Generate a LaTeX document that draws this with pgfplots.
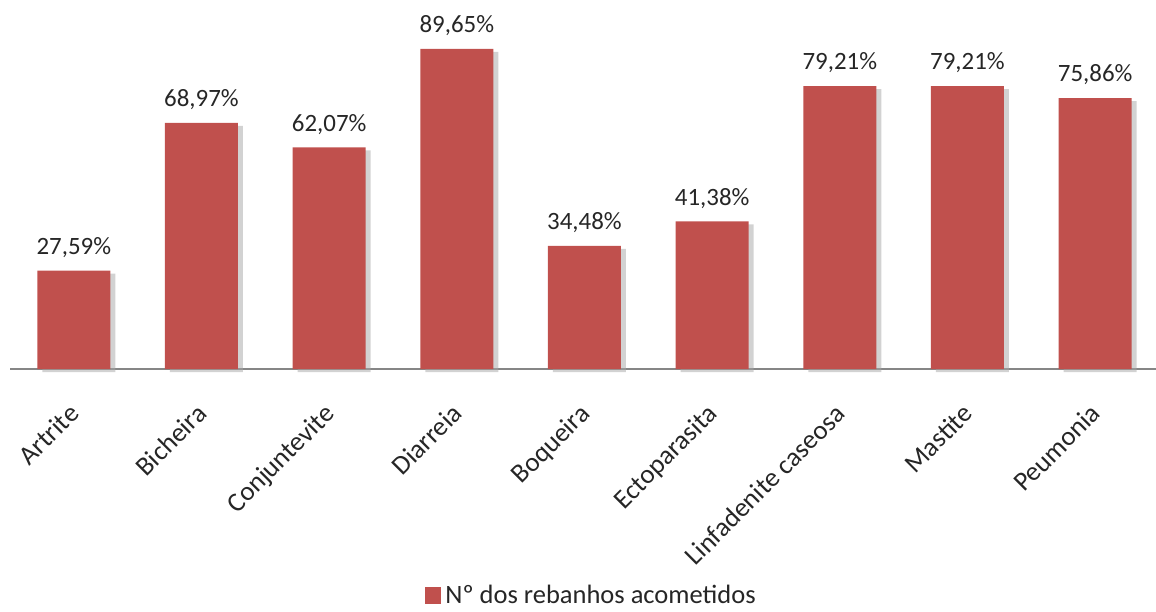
\documentclass[border=0pt]{standalone}
\usepackage{pgfplots}
\pgfplotsset{compat=1.18}
\usepackage{fontspec}
\setmainfont{Carlito}
\definecolor{barred}{HTML}{C0504D}
\definecolor{axgray}{HTML}{868686}
\definecolor{txt}{HTML}{262626}
\begin{document}
\begin{tikzpicture}
\begin{axis}[
  scale only axis,
  width=574.5bp, height=178.5bp,
  xmin=-0.5, xmax=8.5, ymin=0, ymax=100,
  clip=false,
  axis x line=bottom, axis y line=none,
  axis line style={axgray, line width=1.1bp, -},
  xtick=data, xtick style={draw=none},
  xticklabels={Artrite,Bicheira,Conjuntevite,Diarreia,Boqueira,Ectoparasita,Linfadenite caseosa,Mastite,Peumonia},
  x tick label style={rotate=45, anchor=north east, font=\fontsize{13.5}{16}\selectfont, text=txt, xshift=-7.5bp, yshift=-3bp},
  ytick=\empty,
  ybar, bar width=36.5bp,
  nodes near coords={\pgfmathprintnumber{\pgfplotspointmeta}\%},
  every node near coord/.append style={font=\fontsize{12.5}{15}\selectfont, text=txt, yshift=3bp,
    /pgf/number format/.cd, use comma, fixed, fixed zerofill, precision=2, assume math mode=true},
  legend style={draw=none, at={(0.507,-0.635)}, anchor=center, font=\fontsize{13.3}{16}\selectfont, text=txt},
  legend image code/.code={\fill[barred] (0bp,-4bp) rectangle (8bp,4.5bp);},
]
\addplot[fill=black!35, draw=none, opacity=0.5, bar shift=2.5bp, yshift=-1.5bp, forget plot, nodes near coords={}] coordinates {
(0,27.59) (1,68.97) (2,62.07) (3,89.65) (4,34.48) (5,41.38) (6,79.21) (7,79.21) (8,75.86)};
\addplot[fill=barred, draw=none] coordinates {
(0,27.59) (1,68.97) (2,62.07) (3,89.65) (4,34.48) (5,41.38) (6,79.21) (7,79.21) (8,75.86)};
\addlegendentry{Nº dos rebanhos acometidos}
\coordinate (bl) at (rel axis cs:0,0);
\end{axis}
\pgfresetboundingbox
\path[use as bounding box] (bl) ++(-5bp,-121.5bp) rectangle ++(578bp,306bp);
\end{tikzpicture}
\end{document}
